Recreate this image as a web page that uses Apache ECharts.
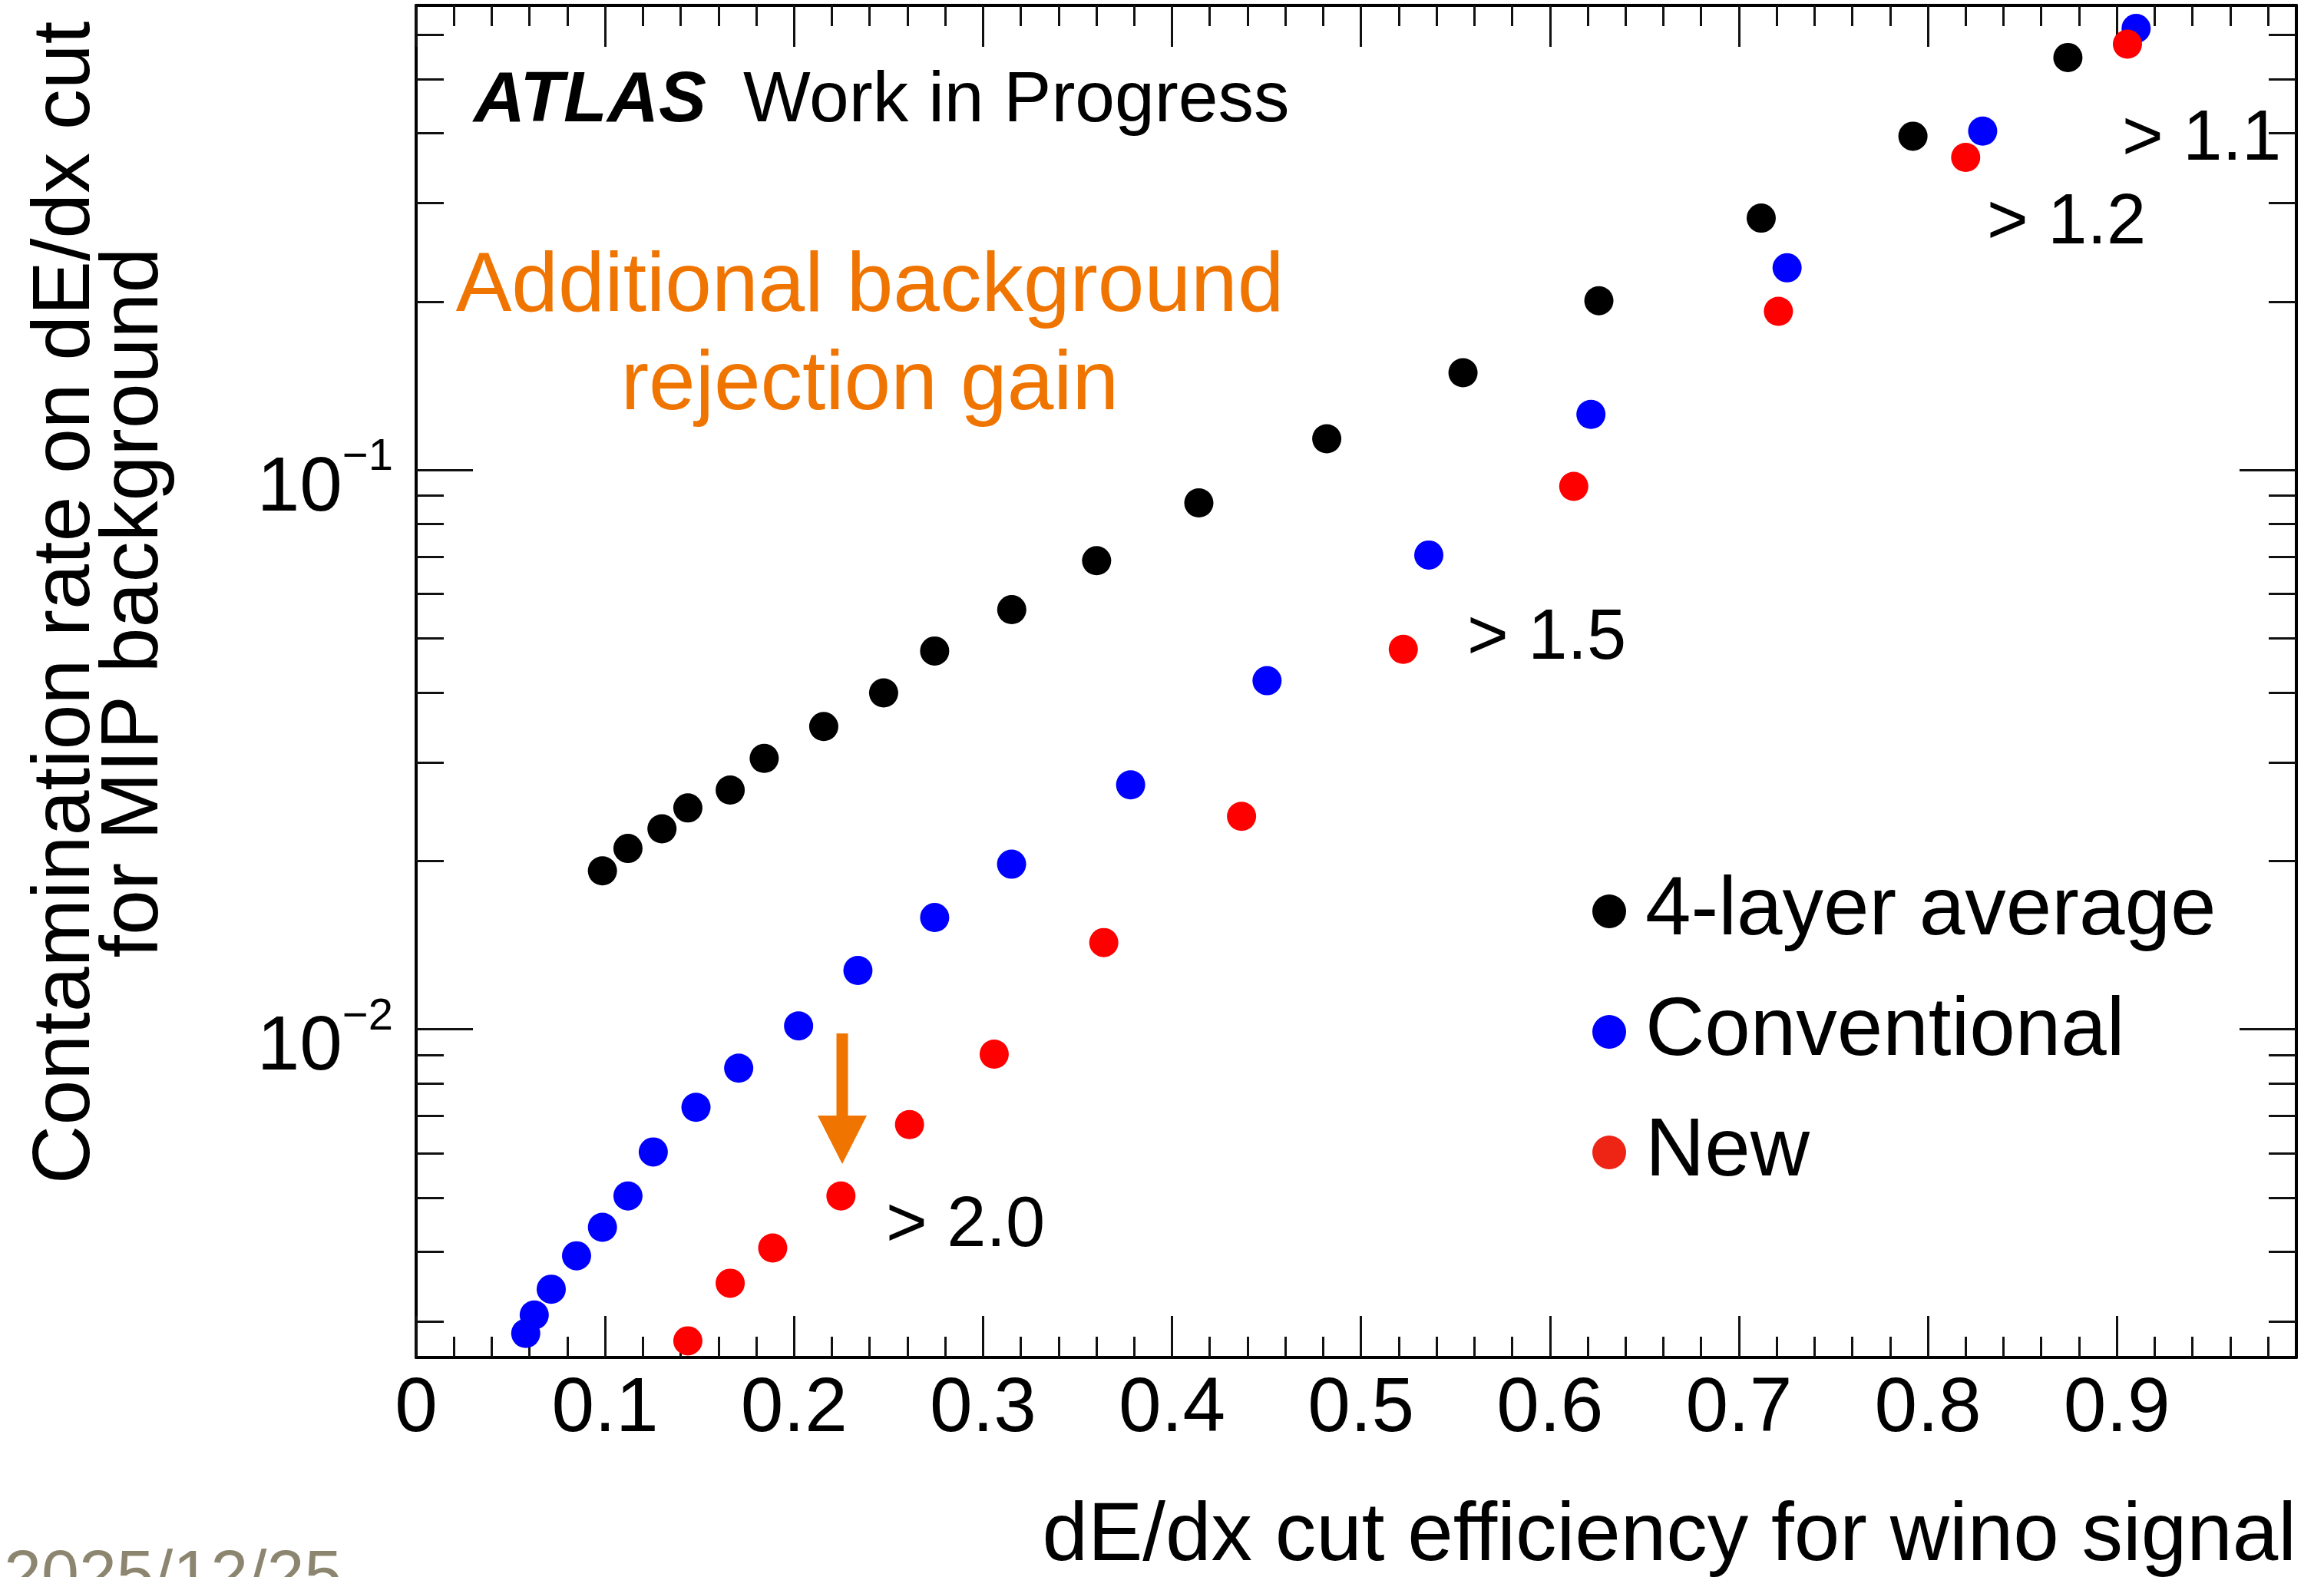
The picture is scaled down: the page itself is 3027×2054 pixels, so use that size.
<!DOCTYPE html>
<html>
<head>
<meta charset="utf-8">
<script src="https://cdn.jsdelivr.net/npm/echarts@6/dist/echarts.min.js"></script>
<style>
html,body{margin:0;padding:0;background:#fff;}
#chart{width:3027px;height:2054px;}
</style>
</head>
<body>
<div id="chart"></div>
<script>
// ---------------- data ----------------
const seriesNames = ['4-layer average', 'Conventional', 'New'];

const avgX = [0.0986, 0.1121, 0.1301, 0.1438, 0.1662, 0.1842, 0.2157, 0.2474, 0.2744, 0.3152, 0.3601, 0.4142, 0.4819, 0.5540, 0.6259, 0.7118, 0.7921, 0.8741];
const avgY = [0.01920, 0.02105, 0.02282, 0.02487, 0.02677, 0.03050, 0.03477, 0.03993, 0.04746, 0.05626, 0.06882, 0.08731, 0.1137, 0.1492, 0.2007, 0.2820, 0.3951, 0.5462];

const convX = [0.0580, 0.0625, 0.0715, 0.0849, 0.0986, 0.1121, 0.1255, 0.1481, 0.1707, 0.2024, 0.2338, 0.2744, 0.3151, 0.3781, 0.4503, 0.5359, 0.6217, 0.7255, 0.8290, 0.9102];
const convY = [0.002859, 0.003084, 0.003430, 0.003935, 0.004426, 0.005035, 0.006034, 0.007252, 0.008519, 0.01014, 0.01274, 0.01584, 0.01973, 0.02735, 0.04199, 0.07045, 0.1257, 0.2298, 0.4035, 0.6156];

const newX = [0.1438, 0.1662, 0.1887, 0.2248, 0.2611, 0.3059, 0.3639, 0.4368, 0.5224, 0.6126, 0.7209, 0.8200, 0.9056];
const newY = [0.002773, 0.003515, 0.004063, 0.005035, 0.006754, 0.009026, 0.01429, 0.02403, 0.04778, 0.09344, 0.1921, 0.3621, 0.5771];

// axis ranges and tick values
const xRange = [0, 0.995];
const yRange = [0.00259, 0.677];
const xMajorTicks = [0, 0.1, 0.2, 0.3, 0.4, 0.5, 0.6, 0.7, 0.8, 0.9];
const xMinorTicks = [0.02, 0.04, 0.06, 0.08, 0.12, 0.14, 0.16, 0.18, 0.22, 0.24, 0.26, 0.28,
  0.32, 0.34, 0.36, 0.38, 0.42, 0.44, 0.46, 0.48, 0.52, 0.54, 0.56, 0.58, 0.62, 0.64, 0.66, 0.68,
  0.72, 0.74, 0.76, 0.78, 0.82, 0.84, 0.86, 0.88, 0.92, 0.94, 0.96, 0.98];
const yMajorTicks = [0.01, 0.1];
const yMinorTicks = [0.003, 0.004, 0.005, 0.006, 0.007, 0.008, 0.009,
  0.02, 0.03, 0.04, 0.05, 0.06, 0.07, 0.08, 0.09, 0.2, 0.3, 0.4, 0.5, 0.6];
const yTickLabels = { 0.01: '2', 0.1: '1' };   // exponents shown as 10^-n

// text annotations
const atlasText = 'ATLAS';
const statusText = 'Work in Progress';
const gainLines = ['Additional background', 'rejection gain'];
const cutLabels = ['> 1.1', '> 1.2', '> 1.5', '> 2.0'];
const yTitleLines = ['Contamination rate on dE/dx cut', 'for MIP background'];
const xTitle = 'dE/dx cut efficiency for wino signal';
const dateText = '2025/12/25';

// ---------------- styling ----------------
const FONT = '"Liberation Sans", Arial, Helvetica, sans-serif';
const ORANGE = '#F07400';
const colors = ['#000000', '#0000FF', '#FF0000'];
const legendRed = '#EE2415';
const GRID = { left: 542, top: 7, right: 36, bottom: 286 };

function pairs(xs, ys) { return xs.map((x, i) => [x, ys[i]]); }

function xAxisDef(pos, ticks, len, withLine, withLabel) {
  return {
    type: 'value', position: pos, min: xRange[0], max: xRange[1],
    axisLine: { show: withLine, onZero: false, lineStyle: { color: '#000', width: 4 } },
    axisTick: { show: true, inside: true, length: len, customValues: ticks, lineStyle: { color: '#111', width: 3 } },
    axisLabel: withLabel ? {
      show: true, customValues: xMajorTicks, margin: 18, fontSize: 100, color: '#000', fontFamily: FONT
    } : { show: false },
    splitLine: { show: false }, minorTick: { show: false }
  };
}
function yAxisDef(pos, ticks, len, withLine, withLabel) {
  return {
    type: 'log', logBase: 10, position: pos, min: yRange[0], max: yRange[1],
    axisLine: { show: withLine, onZero: false, lineStyle: { color: '#000', width: 4 } },
    axisTick: { show: true, inside: true, length: len, customValues: ticks, lineStyle: { color: '#111', width: 3 } },
    axisLabel: withLabel ? {
      show: true, customValues: yMajorTicks, margin: 30, color: '#000', fontFamily: FONT,
      padding: [30, 0, 0, 0],
      formatter: function (v) {
        const key = v < 0.05 ? 0.01 : 0.1;
        return '{b|10}{s|\u2212' + yTickLabels[key] + '}';
      },
      rich: {
        b: { fontSize: 100, lineHeight: 120, verticalAlign: 'bottom', fontFamily: FONT, color: '#000' },
        s: { fontSize: 58, lineHeight: 52, verticalAlign: 'top', fontFamily: FONT, color: '#000' }
      }
    } : { show: false },
    splitLine: { show: false }, minorTick: { show: false }
  };
}

function txt(text, x, y, size, opts) {
  opts = opts || {};
  return {
    type: 'text', x: x, y: y, rotation: opts.rotation || 0, z: 100,
    style: {
      text: text, fill: opts.color || '#000',
      font: (opts.style || '') + ' ' + size + 'px ' + FONT,
      align: opts.align || 'left', verticalAlign: 'middle',
      textAlign: opts.align || 'left', textVerticalAlign: 'middle'
    }
  };
}
// baseline -> middle offset (empirical for this renderer)
const MID = 0.28;
function mid(baseline, size) { return baseline - MID * size; }

const chart = echarts.init(document.getElementById('chart'), null, { renderer: 'canvas' });

const option = {
  backgroundColor: '#ffffff',
  animation: false,
  grid: GRID,
  xAxis: [
    xAxisDef('bottom', xMajorTicks, 54, true, true),
    xAxisDef('bottom', xMinorTicks, 27, false, false),
    xAxisDef('top', xMajorTicks, 54, true, false),
    xAxisDef('top', xMinorTicks, 27, false, false)
  ],
  yAxis: [
    yAxisDef('left', yMajorTicks, 74, true, true),
    yAxisDef('left', yMinorTicks, 36, false, false),
    yAxisDef('right', yMajorTicks, 74, true, false),
    yAxisDef('right', yMinorTicks, 36, false, false)
  ],
  legend: {
    orient: 'vertical', left: 2074, top: 1127, padding: 0,
    itemGap: 37, itemWidth: 84, itemHeight: 44, icon: 'circle',
    selectedMode: false,
    textStyle: { fontSize: 107, lineHeight: 120, color: '#000', fontFamily: FONT },
    data: [
      { name: seriesNames[0] },
      { name: seriesNames[1] },
      { name: seriesNames[2], itemStyle: { color: legendRed } }
    ]
  },
  series: [
    { name: seriesNames[0], type: 'scatter', symbol: 'circle', symbolSize: 38, xAxisIndex: 0, yAxisIndex: 0,
      itemStyle: { color: colors[0], opacity: 1 }, data: pairs(avgX, avgY), z: 3 },
    { name: seriesNames[1], type: 'scatter', symbol: 'circle', symbolSize: 38, xAxisIndex: 0, yAxisIndex: 0,
      itemStyle: { color: colors[1], opacity: 1 }, data: pairs(convX, convY), z: 4 },
    { name: seriesNames[2], type: 'scatter', symbol: 'circle', symbolSize: 38, xAxisIndex: 0, yAxisIndex: 0,
      itemStyle: { color: colors[2], opacity: 1 }, data: pairs(newX, newY), z: 5 }
  ],
  graphic: [
    txt(atlasText, 617, mid(158, 93), 93, { style: 'italic bold' }),
    txt(statusText, 968, mid(158, 93), 93),
    txt(gainLines[0], 1133, mid(405, 109), 109, { align: 'center', color: ORANGE }),
    txt(gainLines[1], 1133, mid(533, 109), 109, { align: 'center', color: ORANGE }),
    txt(cutLabels[0], 2764, mid(208, 92), 92),
    txt(cutLabels[1], 2588, mid(317, 92), 92),
    txt(cutLabels[2], 1911, mid(858, 92), 92),
    txt(cutLabels[3], 1154, mid(1623, 92), 92),
    txt(yTitleLines[0], 116 - MID * 106, 785, 106, { align: 'center', rotation: Math.PI / 2 }),
    txt(yTitleLines[1], 205.5 - MID * 106, 785, 106, { align: 'center', rotation: Math.PI / 2 }),
    txt(xTitle, 2991, mid(2032, 107), 107, { align: 'right' }),
    txt(dateText, 5, mid(2080, 88), 88, { color: '#8C8670' }),
    {
      type: 'polygon', z: 90,
      shape: { points: [[1089.5, 1346], [1104.5, 1346], [1104.5, 1453], [1129, 1453], [1097, 1516], [1065, 1453], [1089.5, 1453]] },
      style: { fill: ORANGE, stroke: null }
    }
  ]
};
chart.setOption(option);
</script>
</body>
</html>
